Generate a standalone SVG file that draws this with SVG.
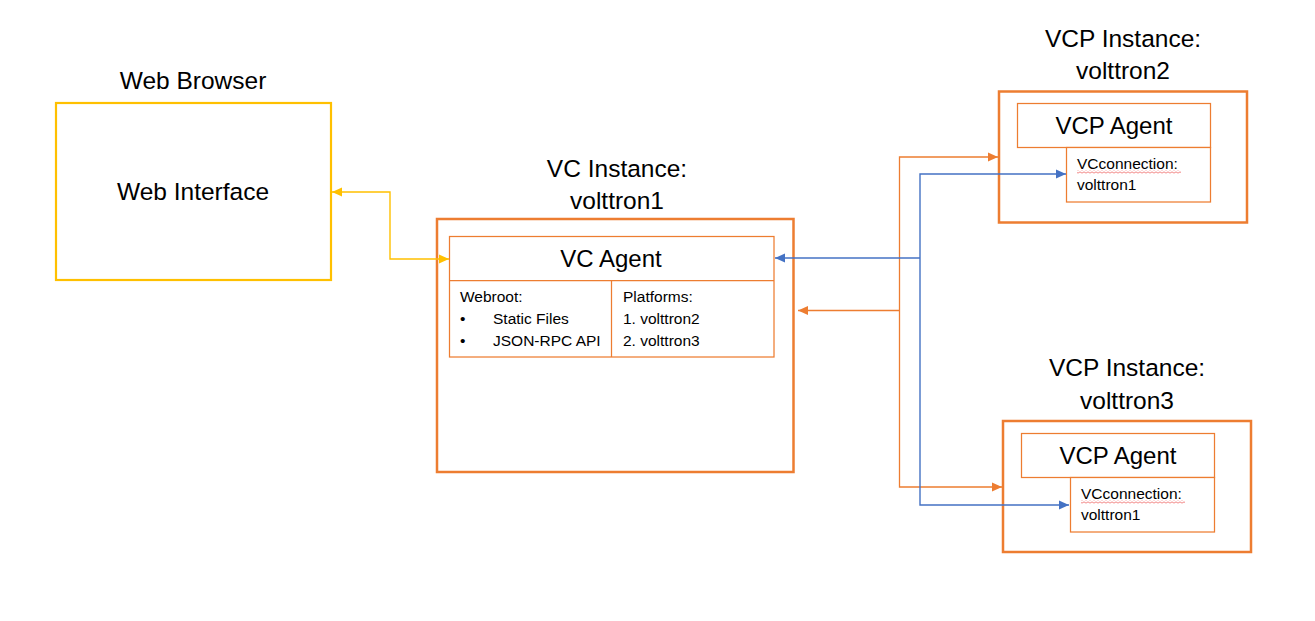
<svg xmlns="http://www.w3.org/2000/svg" width="1315" height="621" viewBox="0 0 1315 621">
<style>
  text { font-family: "Liberation Sans", Arial, sans-serif; fill: #000; }
  .title { font-size: 24.5px; text-anchor: middle; }
  .agent { font-size: 24px; text-anchor: middle; }
  .small { font-size: 15.5px; }
  .outer { fill: #fff; stroke: #ED7D31; stroke-width: 2.5; }
  .inner { fill: #fff; stroke: #ED7D31; stroke-width: 1.25; }
  .web { fill: #fff; stroke: #FFC000; stroke-width: 2.2; }
  .c-blue { fill: none; stroke: #4472C4; stroke-width: 1.4; }
  .c-orange { fill: none; stroke: #ED7D31; stroke-width: 1.3; }
  .c-yellow { fill: none; stroke: #FFC000; stroke-width: 1.4; }
  .squig { fill: none; stroke: #E8312F; stroke-width: 0.8; }
</style>
<defs>
  <marker id="aBlue" viewBox="0 0 10 10" refX="10" refY="5" markerUnits="userSpaceOnUse" markerWidth="10" markerHeight="10" orient="auto-start-reverse">
    <path d="M0,0.5 L10,5 L0,9.5 z" fill="#4472C4"/>
  </marker>
  <marker id="aOrange" viewBox="0 0 10 10" refX="10" refY="5" markerUnits="userSpaceOnUse" markerWidth="10" markerHeight="10" orient="auto-start-reverse">
    <path d="M0,0.5 L10,5 L0,9.5 z" fill="#ED7D31"/>
  </marker>
  <marker id="aYellow" viewBox="0 0 10 10" refX="10" refY="5" markerUnits="userSpaceOnUse" markerWidth="10" markerHeight="10" orient="auto-start-reverse">
    <path d="M0,0.5 L10,5 L0,9.5 z" fill="#FFC000"/>
  </marker>
  <pattern id="wave" x="0" y="0" width="4" height="3" patternUnits="userSpaceOnUse">
    <path d="M0,0.5 L2,2.5 L4,0.5" class="squig"/>
  </pattern>
</defs>
<rect width="1315" height="621" fill="#fff"/>

<g id="web-browser">
  <text class="title" x="193" y="89">Web Browser</text>
  <rect class="web" x="56" y="103" width="275" height="177"/>
  <text class="title" x="193" y="200">Web Interface</text>
</g>

<g id="vc-instance">
  <text class="title" x="617" y="177">VC Instance:</text>
  <text class="title" x="617" y="209">volttron1</text>
  <rect class="outer" x="437" y="219" width="356.5" height="253"/>
</g>

<g id="vc-agent">
  <rect class="inner" x="449.5" y="236.5" width="324.5" height="120.5"/>
  <line class="inner" x1="449.5" y1="280.5" x2="774" y2="280.5"/>
  <line class="inner" x1="611.5" y1="280.5" x2="611.5" y2="357"/>
  <text class="agent" x="611" y="267">VC Agent</text>
  <text class="small" x="460" y="302">Webroot:</text>
  <text class="small" x="460" y="324">•</text>
  <text class="small" x="493" y="324">Static Files</text>
  <text class="small" x="460" y="346">•</text>
  <text class="small" x="493" y="346">JSON-RPC API</text>
  <text class="small" x="623" y="302">Platforms:</text>
  <text class="small" x="623" y="324">1. volttron2</text>
  <text class="small" x="623" y="346">2. volttron3</text>
</g>

<g id="vcp-instance-2">
  <text class="title" x="1123" y="47">VCP Instance:</text>
  <text class="title" x="1123" y="79">volttron2</text>
  <rect class="outer" x="999" y="91.5" width="248" height="131"/>
  <rect class="inner" x="1017.5" y="103.5" width="193" height="44"/>
  <text class="agent" x="1114" y="134">VCP Agent</text>
  <rect class="inner" x="1066.5" y="147.5" width="144" height="54.5"/>
  <text class="small" x="1077" y="169">VCconnection:</text>
  <rect x="1077" y="170.5" width="104" height="3" fill="url(#wave)"/>
  <text class="small" x="1077" y="190">volttron1</text>
</g>

<g id="vcp-instance-3">
  <text class="title" x="1127" y="376">VCP Instance:</text>
  <text class="title" x="1127" y="409">volttron3</text>
  <rect class="outer" x="1003" y="421" width="248" height="131"/>
  <rect class="inner" x="1021.5" y="433.5" width="193" height="44"/>
  <text class="agent" x="1118" y="464">VCP Agent</text>
  <rect class="inner" x="1070.5" y="477.5" width="144" height="54.5"/>
  <text class="small" x="1081" y="499">VCconnection:</text>
  <rect x="1081" y="500.5" width="104" height="3" fill="url(#wave)"/>
  <text class="small" x="1081" y="520">volttron1</text>
</g>

<g id="connectors">
  <path class="c-yellow" d="M332,192 H390 V259 H449" marker-start="url(#aYellow)" marker-end="url(#aYellow)"/>
  <path class="c-orange" d="M998,157 H899.5 V487 H1002" marker-start="url(#aOrange)" marker-end="url(#aOrange)"/>
  <path class="c-orange" d="M899.5,310.5 H798" marker-end="url(#aOrange)"/>
  <path class="c-blue" d="M1066,174 H920 V505 H1069" marker-start="url(#aBlue)" marker-end="url(#aBlue)"/>
  <path class="c-blue" d="M920,258 H775" marker-end="url(#aBlue)"/>
</g>
</svg>
